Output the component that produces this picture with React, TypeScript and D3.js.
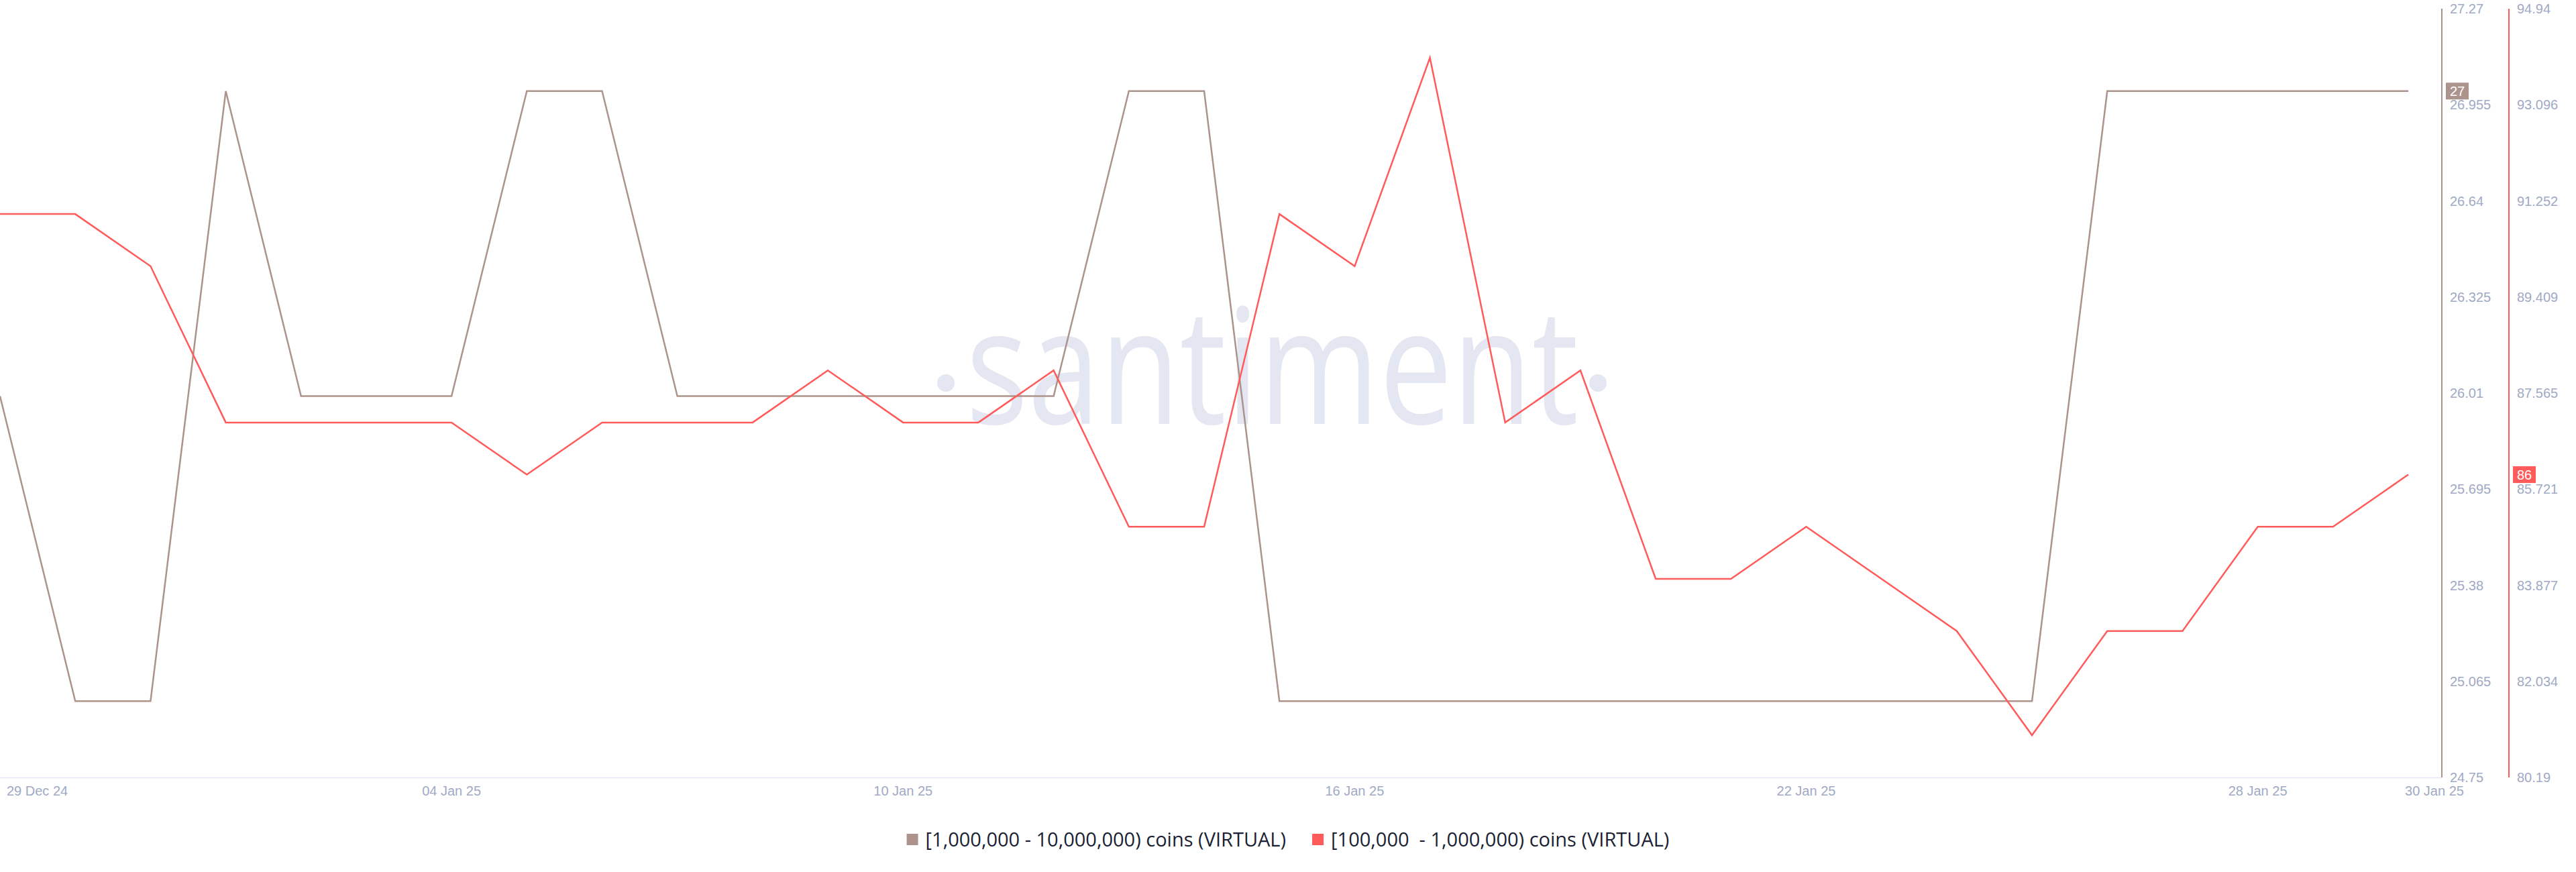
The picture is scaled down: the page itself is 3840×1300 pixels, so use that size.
import React, { useEffect, useRef } from "react";
import * as d3 from "d3";

const startDate = new Date(Date.UTC(2024, 11, 29));
const endDate = new Date(Date.UTC(2025, 0, 31));
const dates: Date[] = d3.utcDay.range(startDate, endDate);

const bigHolders = [
  26, 25, 25, 27, 26, 26, 26, 27, 27, 26, 26, 26, 26, 26, 26, 27, 27,
  25, 25, 25, 25, 25, 25, 25, 25, 25, 25, 25, 27, 27, 27, 27, 27,
];
const midHolders = [
  91, 91, 90, 87, 87, 87, 87, 86, 87, 87, 87, 88, 87, 87, 88, 85, 85,
  91, 90, 94, 87, 88, 84, 84, 85, 84, 83, 81, 83, 83, 85, 85, 86,
];

const brownTicks = [27.27, 26.955, 26.64, 26.325, 26.01, 25.695, 25.38, 25.065, 24.75];
const redTicks = [94.94, 93.096, 91.252, 89.409, 87.565, 85.721, 83.877, 82.034, 80.19];

const xTickDates = ["2024-12-29", "2025-01-04", "2025-01-10", "2025-01-16", "2025-01-22", "2025-01-28", "2025-01-30"];
const xTickLabels = ["29 Dec 24", "04 Jan 25", "10 Jan 25", "16 Jan 25", "22 Jan 25", "28 Jan 25", "30 Jan 25"];

const seriesNames = ["[1,000,000 - 10,000,000) coins (VIRTUAL)", "[100,000  - 1,000,000) coins (VIRTUAL)"];

const BROWN = "#ac948c";
const RED = "#ff5b5b";
const TICK = "#9faac4";

export default function App() {
  const ref = useRef<SVGSVGElement | null>(null);

  useEffect(() => {
    const svg = d3.select(ref.current);
    svg.selectAll("*").remove();

    const W = 3840;
    const top = 13;
    const bottom = 1159;
    const axisBrownX = 3640;
    const axisRedX = 3740;

    const x = d3.scaleUtc().domain([dates[0], dates[dates.length - 1]]).range([0, 3590]);
    const yB = d3.scaleLinear().domain([24.75, 27.27]).range([bottom, top]);
    const yR = d3.scaleLinear().domain([80.19, 94.94]).range([bottom, top]);

    // watermark
    const wm = svg.append("g").attr("fill", "#e4e7f1");
    wm.append("text")
      .attr("x", 1440)
      .attr("y", 632)
      .attr("font-family", "'Open Sans', sans-serif")
      .attr("font-size", 240)
      .attr("textLength", 913)
      .attr("lengthAdjust", "spacingAndGlyphs")
      .text("santiment");
    wm.append("circle").attr("cx", 1410).attr("cy", 571).attr("r", 13);
    wm.append("circle").attr("cx", 2382).attr("cy", 571).attr("r", 13);

    // x axis line
    svg.append("line")
      .attr("x1", 0).attr("x2", axisBrownX)
      .attr("y1", bottom + 0.5).attr("y2", bottom + 0.5)
      .attr("stroke", "#e4e8f2").attr("stroke-width", 1.5);

    // x tick labels
    const xt = svg.append("g")
      .attr("font-family", "'Liberation Sans', Arial, sans-serif")
      .attr("font-size", 20)
      .attr("fill", TICK);
    xTickDates.forEach((ds, i) => {
      const d = new Date(ds + "T00:00:00Z");
      const px = x(d);
      const last = i === xTickDates.length - 1;
      const first = i === 0;
      xt.append("text")
        .attr("x", first ? px + 10 : last ? px + 39 : px)
        .attr("y", 1186)
        .attr("text-anchor", first ? "start" : "middle")
        .text(xTickLabels[i]);
    });

    // lines
    const lineB = d3.line<number>().x((_, i) => x(dates[i])).y((v) => yB(v));
    const lineR = d3.line<number>().x((_, i) => x(dates[i])).y((v) => yR(v));
    svg.append("path").attr("d", lineB(bigHolders) as string)
      .attr("fill", "none").attr("stroke", BROWN).attr("stroke-width", 2.5).attr("stroke-linejoin", "miter");
    svg.append("path").attr("d", lineR(midHolders) as string)
      .attr("fill", "none").attr("stroke", RED).attr("stroke-width", 2.5).attr("stroke-linejoin", "miter");

    // y axes
    svg.append("line").attr("x1", axisBrownX).attr("x2", axisBrownX).attr("y1", top).attr("y2", bottom)
      .attr("stroke", BROWN).attr("stroke-width", 2);
    svg.append("line").attr("x1", axisRedX).attr("x2", axisRedX).attr("y1", top).attr("y2", bottom)
      .attr("stroke", RED).attr("stroke-width", 2);

    const yt = svg.append("g")
      .attr("font-family", "'Liberation Sans', Arial, sans-serif")
      .attr("font-size", 20)
      .attr("fill", TICK);
    brownTicks.forEach((t) => {
      yt.append("text").attr("x", axisBrownX + 12).attr("y", yB(t)).attr("dy", "0.35em").text(String(t));
    });
    redTicks.forEach((t) => {
      yt.append("text").attr("x", axisRedX + 12).attr("y", yR(t)).attr("dy", "0.35em").text(String(t));
    });

    // last value badges
    const badge = (ax: number, yy: number, color: string, val: number) => {
      const g = svg.append("g");
      g.append("rect").attr("x", ax + 6).attr("y", yy - 12.5).attr("width", 34).attr("height", 25).attr("fill", color);
      g.append("text").attr("x", ax + 12).attr("y", yy).attr("dy", "0.35em")
        .attr("font-family", "'Liberation Sans', Arial, sans-serif").attr("font-size", 20)
        .attr("fill", "#fff").text(String(val));
    };
    const lb = bigHolders[bigHolders.length - 1];
    const lr = midHolders[midHolders.length - 1];
    badge(axisBrownX, yB(lb), BROWN, lb);
    badge(axisRedX, yR(lr), RED, lr);

    // legend
    const lg = svg.append("g");
    const colors = [BROWN, RED];
    const widths: number[] = [];
    const texts = seriesNames.map((n) => {
      const t = lg.append("text")
        .attr("font-family", "'Open Sans', sans-serif")
        .attr("font-size", 29)
        .attr("fill", "#1b1f33")
        .attr("xml:space", "preserve")
        .style("white-space", "pre")
        .attr("y", 1262)
        .text(n);
      widths.push((t.node() as SVGTextElement).getComputedTextLength());
      return t;
    });
    const sq = 17, gap = 11, itemGap = 39;
    const total = widths.reduce((a, w) => a + sq + gap + w, 0) + itemGap;
    let cx = W / 2 - total / 2;
    texts.forEach((t, i) => {
      lg.append("rect").attr("x", cx).attr("y", 1243).attr("width", sq).attr("height", sq).attr("fill", colors[i]);
      t.attr("x", cx + sq + gap);
      cx += sq + gap + widths[i] + itemGap;
    });
  }, []);

  return (
    <svg
      ref={ref}
      width={3840}
      height={1300}
      style={{ position: "absolute", left: 0, top: 0, background: "#fff" }}
    />
  );
}
